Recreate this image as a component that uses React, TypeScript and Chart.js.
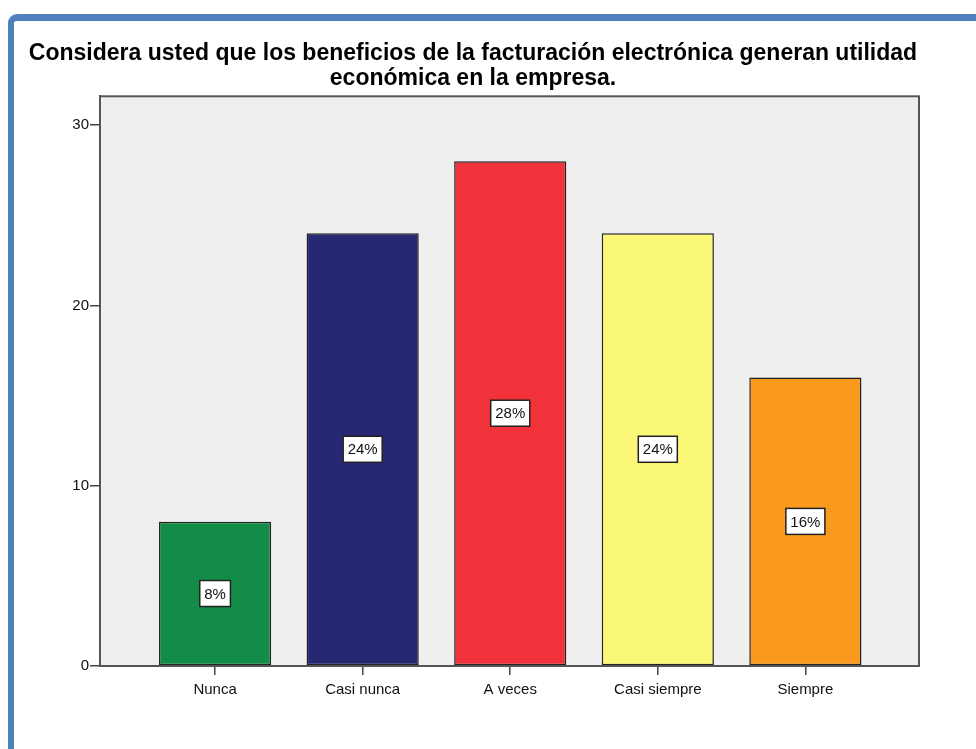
import React, { useEffect, useRef } from "react";
import { Chart, registerables } from "chart.js";

Chart.register(...registerables);

const titleLines = [
  "Considera usted que los beneficios de la facturación electrónica generan utilidad",
  "económica en la empresa.",
];
const categories = ["Nunca", "Casi nunca", "A veces", "Casi siempre", "Siempre"];
const counts = [8, 24, 28, 24, 16];
const percentLabels = ["8%", "24%", "28%", "24%", "16%"];
const barColors = ["#128c47", "#262874", "#f1323a", "#fbf877", "#f99a1e"];
const yTicks = [0, 10, 20, 30];

const FONT = "'Liberation Sans', Arial, sans-serif";

const plotFrame = {
  id: "plotFrame",
  beforeDatasetsDraw(chart: any) {
    const { ctx, chartArea: a } = chart;
    ctx.save();
    ctx.fillStyle = "#efefef";
    ctx.fillRect(a.left, a.top, a.right - a.left, a.bottom - a.top);
    ctx.restore();
  },
  afterDatasetsDraw(chart: any) {
    const { ctx, chartArea: a } = chart;
    ctx.save();
    ctx.strokeStyle = "#555";
    ctx.lineWidth = 2;
    ctx.strokeRect(a.left, a.top, a.right - a.left, a.bottom - a.top);
    // value labels
    const meta = chart.getDatasetMeta(0);
    ctx.font = `15px ${FONT}`;
    ctx.textAlign = "center";
    ctx.textBaseline = "middle";
    meta.data.forEach((bar: any, i: number) => {
      const cx = bar.x;
      const cy = (bar.y + bar.base) / 2;
      const text = percentLabels[i];
      const w = ctx.measureText(text).width + 9;
      const h = 26;
      ctx.fillStyle = "#fff";
      ctx.fillRect(cx - w / 2, cy - h / 2, w, h);
      ctx.strokeStyle = "#222";
      ctx.lineWidth = 1.5;
      ctx.strokeRect(cx - w / 2, cy - h / 2, w, h);
      ctx.fillStyle = "#111";
      ctx.fillText(text, cx, cy + 1);
    });
    ctx.restore();
  },
};

export default function App() {
  const ref = useRef<HTMLCanvasElement | null>(null);
  useEffect(() => {
    document.body.style.margin = "0";
    const chart = new Chart(ref.current!, {
      type: "bar",
      data: {
        datasets: [
          {
            data: counts.map((v, i) => ({ x: i, y: v })),
            backgroundColor: barColors,
            borderColor: "#222",
            borderWidth: 1.5,
            borderSkipped: false,
            barPercentage: 0.76,
            categoryPercentage: 1,
          },
        ],
      },
      options: {
        responsive: false,
        animation: false,
        layout: { padding: { left: 27, right: 57, top: 0, bottom: 0 } },
        plugins: {
          legend: { display: false },
          tooltip: { enabled: false },
          title: {
            display: true,
            text: titleLines,
            color: "#000",
            font: { family: FONT, size: 23, weight: "bold", lineHeight: 1.05 },
            padding: { top: 42, bottom: 6 },
          },
        },
        scales: {
          x: {
            type: "linear",
            offset: false,
            min: -0.78,
            max: 4.77,
            afterBuildTicks: (s: any) => {
              s.ticks = categories.map((_, i) => ({ value: i }));
            },
            afterFit: (s: any) => {
              s.height = 83;
            },
            ticks: {
              autoSkip: false,
              maxRotation: 0,
              padding: 6,
              color: "#111",
              font: { family: FONT, size: 15 },
              callback: (v: any) => categories[v as number] ?? "",
            },
            grid: { offset: false, drawOnChartArea: false, drawTicks: true, tickLength: 9, color: "#444", lineWidth: 1.5 },
            border: { display: true, color: "#444", width: 2 },
          },
          y: {
            min: 0,
            max: 31.6,
            afterBuildTicks: (s: any) => {
              s.ticks = yTicks.map((v) => ({ value: v }));
            },
            afterFit: (s: any) => {
              s.width = 73;
            },
            ticks: {
              padding: 1,
              color: "#111",
              font: { family: FONT, size: 15 },
            },
            grid: { drawOnChartArea: false, drawTicks: true, tickLength: 10, color: "#444", lineWidth: 1.5 },
            border: { display: true, color: "#444", width: 2 },
          },
        },
      },
      plugins: [plotFrame],
    });
    return () => chart.destroy();
  }, []);

  return (
    <div style={{ position: "relative", width: 976, height: 749, overflow: "hidden", background: "#fff" }}>
      <div
        style={{
          position: "absolute",
          left: 8,
          top: 14,
          width: 1100,
          height: 900,
          borderLeft: "6px solid #4f81bd",
          borderTop: "7px solid #4f81bd",
          borderTopLeftRadius: 9,
        }}
      />
      <canvas ref={ref} width={976} height={749} style={{ position: "absolute", left: 0, top: 0, display: "block" }} />
    </div>
  );
}
